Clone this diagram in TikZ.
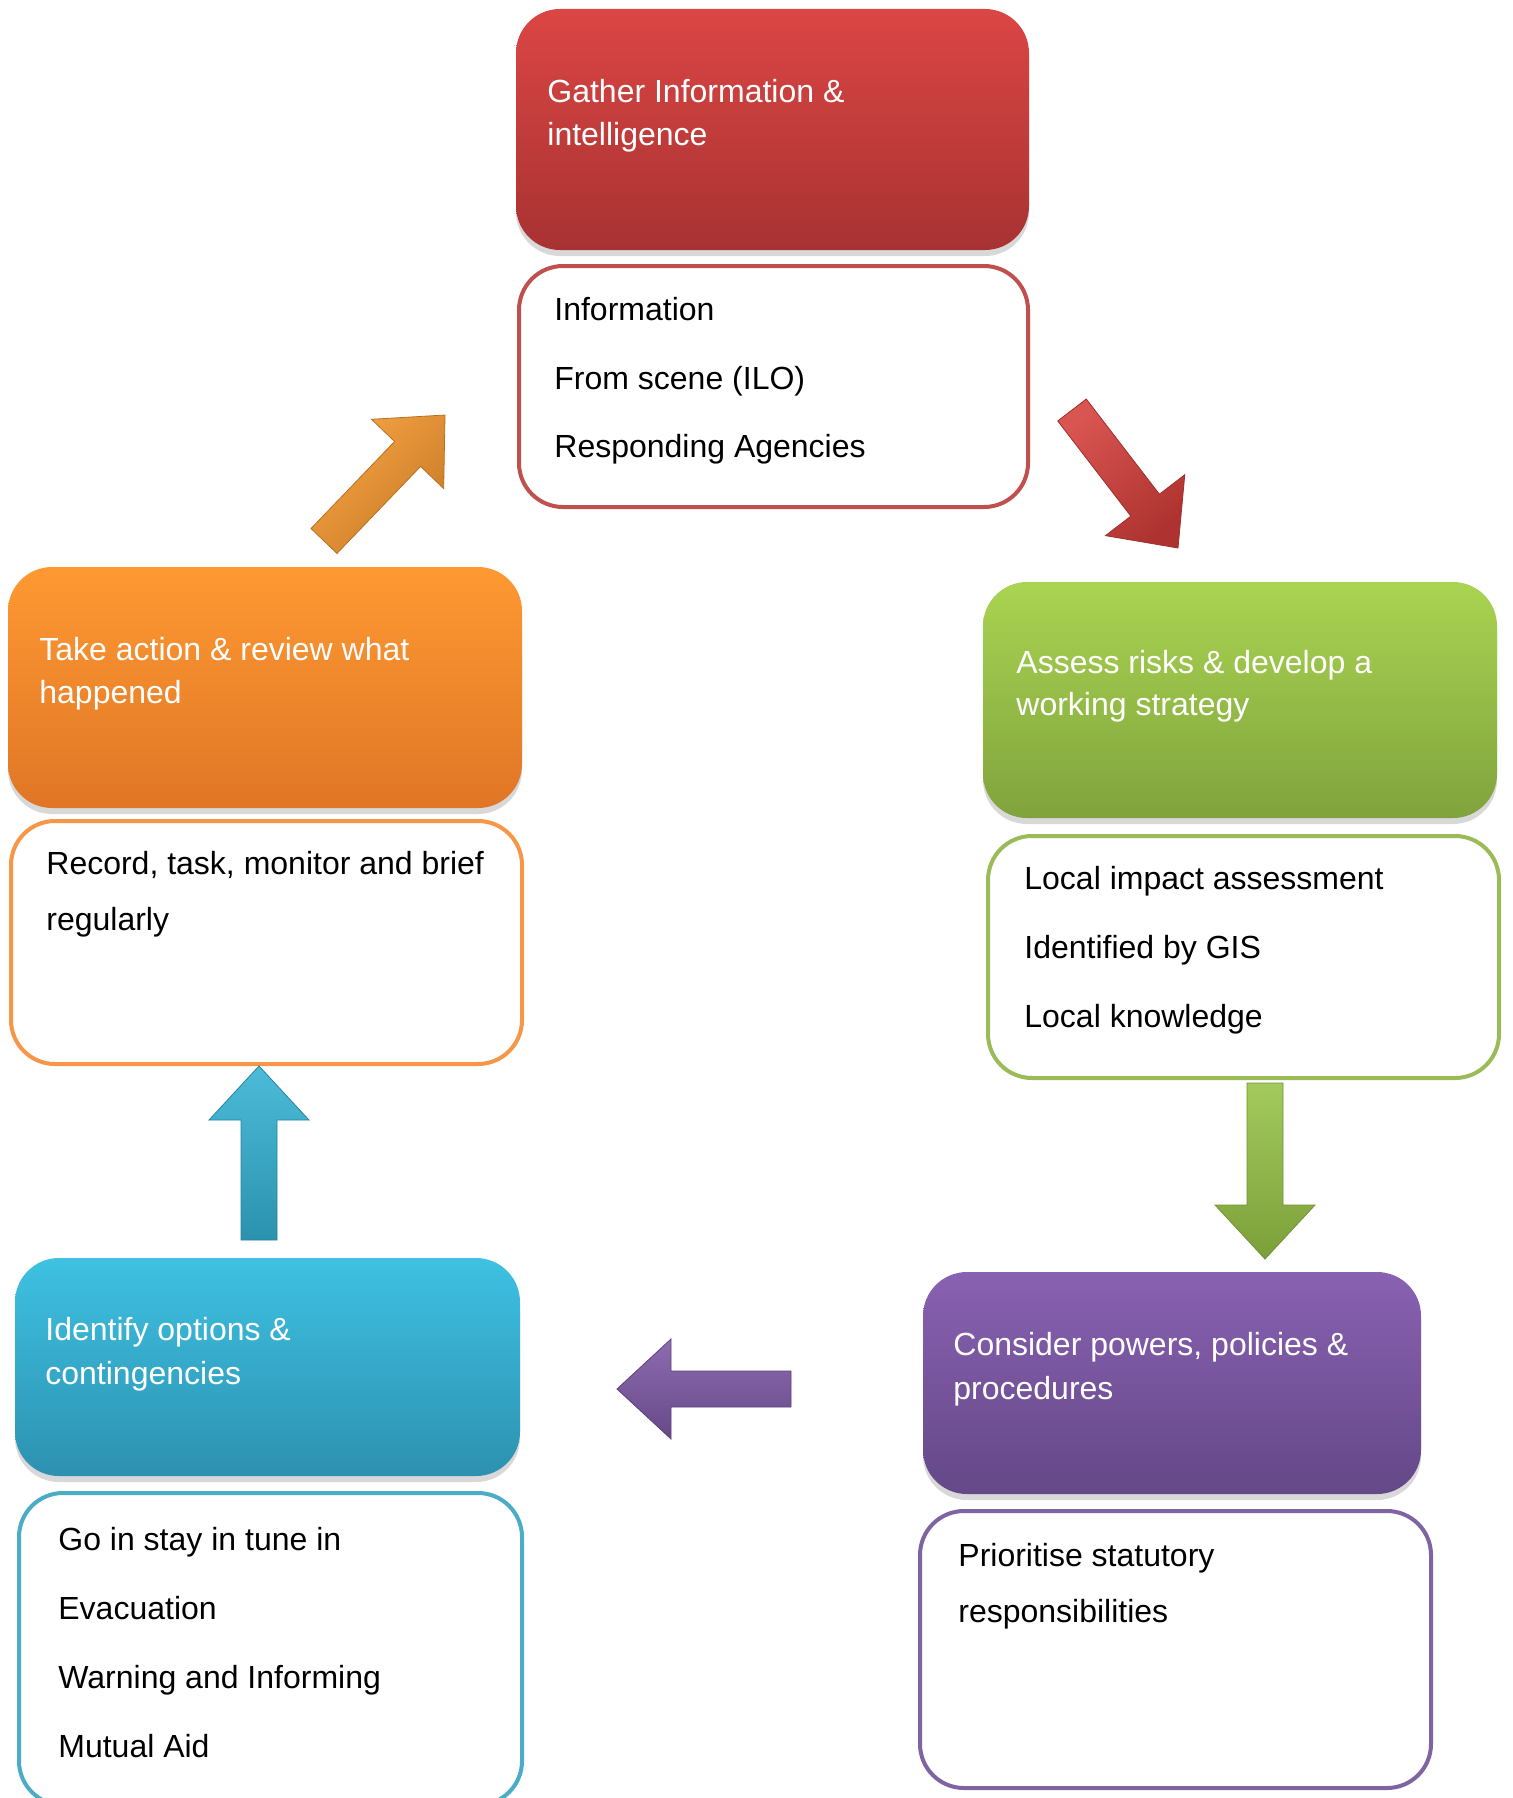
\documentclass[tikz,border=0pt]{standalone}
\usepackage{fontspec}
\setmainfont{Liberation Sans}
\usetikzlibrary{calc,shadows}
\definecolor{redT}{RGB}{219,70,68}
\definecolor{redB}{RGB}{168,50,50}
\definecolor{redL}{RGB}{192,80,77}
\definecolor{grnT}{RGB}{170,212,82}
\definecolor{grnB}{RGB}{128,163,60}
\definecolor{grnL}{RGB}{155,187,89}
\definecolor{purT}{RGB}{137,97,178}
\definecolor{purB}{RGB}{100,72,135}
\definecolor{purL}{RGB}{128,100,162}
\definecolor{bluT}{RGB}{62,193,226}
\definecolor{bluB}{RGB}{45,145,176}
\definecolor{bluL}{RGB}{75,172,198}
\definecolor{orgT}{RGB}{254,153,50}
\definecolor{orgB}{RGB}{224,118,38}
\definecolor{orgL}{RGB}{247,150,70}
\definecolor{redA}{RGB}{212,62,58}
\definecolor{grnA}{RGB}{150,195,70}
\definecolor{purA}{RGB}{125,88,165}
\definecolor{bluA}{RGB}{52,178,212}
\definecolor{orgA}{RGB}{245,150,45}
\tikzset{
  hdr/.style={rounded corners=22pt, inner sep=0pt,
    drop shadow={opacity=0.3,shadow xshift=0pt,shadow yshift=-3pt}},
  det/.style={rounded corners=22pt, draw=#1, line width=2pt, fill=white, inner sep=0pt},
  htxt/.style={anchor=base west, text=white, font=\fontsize{16}{21}\selectfont, inner sep=0pt},
  dtxt/.style={anchor=base west, text=black, font=\fontsize{16}{21}\selectfont, inner sep=0pt},
  barrow/.style={draw=#1!75!black, line width=0.4pt, line join=miter}
}
\newcommand\blockarr[4]{%
  \coordinate (#2b) at ($(#3)!27pt!(#2)$);
  \shade[barrow=#1, top color=#1!88!white, bottom color=#1!82!black, shading angle=#4]
    ($(#2)!9pt!90:(#3)$) -- ($(#2b)!9pt!90:(#3)$) -- ($(#2b)!25pt!90:(#3)$) -- (#3)
    -- ($(#2b)!25pt!-90:(#3)$) -- ($(#2b)!9pt!-90:(#3)$) -- ($(#2)!9pt!-90:(#3)$) -- cycle;
}
\begin{document}
\begin{tikzpicture}[x=0.5pt,y=-0.5pt]
\clip (0,0) rectangle (1512,1798);
\fill[white] (0,0) rectangle (1512,1798);

% --- Gather (red)
\node[hdr, top color=redT, bottom color=redB, minimum width=256.5pt, minimum height=120.5pt] (gh) at (772.5,129.5) {};
\node[det=redL, minimum width=254.5pt, minimum height=120.5pt] (gd) at (773.5,386.5) {};
\node[htxt] (gt1) at (547,103) {Gather Information \&};
\node[htxt] (gt2) at (547,146) {intelligence};
\node[dtxt] (gd1) at (554,320) {Information};
\node[dtxt] (gd2) at (554,389) {From scene (ILO)};
\node[dtxt] (gd3) at (554,457) {Responding Agencies};

% --- Assess (green)
\node[hdr, top color=grnT, bottom color=grnB, minimum width=257pt, minimum height=118pt] (ah) at (1240,700) {};
\node[det=grnL, minimum width=255.5pt, minimum height=121pt] (ad) at (1243.5,957) {};
\node[htxt] (at1) at (1016,673) {Assess risks \& develop a};
\node[htxt] (at2) at (1016,715) {working strategy};
\node[dtxt] (ad1) at (1024,889) {Local impact assessment};
\node[dtxt] (ad2) at (1024,958) {Identified by GIS};
\node[dtxt] (ad3) at (1024,1027) {Local knowledge};

% --- Consider (purple)
\node[hdr, top color=purT, bottom color=purB, minimum width=249pt, minimum height=111pt] (ch) at (1172,1383) {};
\node[det=purL, minimum width=255.5pt, minimum height=138.5pt] (cd) at (1175.5,1649.5) {};
\node[htxt] (ct1) at (953,1355) {Consider powers, policies \&};
\node[htxt] (ct2) at (953,1399) {procedures};
\node[dtxt] (cd1) at (958,1566) {Prioritise statutory};
\node[dtxt] (cd2) at (958,1622) {responsibilities};

% --- Identify (blue)
\node[hdr, top color=bluT, bottom color=bluB, minimum width=252.5pt, minimum height=109pt] (ih) at (267.5,1367) {};
\node[det=bluL, minimum width=251.5pt, minimum height=156pt] (id) at (270.5,1649) {};
\node[htxt] (it1) at (45,1340) {Identify options \&};
\node[htxt] (it2) at (45,1384) {contingencies};
\node[dtxt] (id1) at (58,1550) {Go in stay in tune in};
\node[dtxt] (id2) at (58,1619) {Evacuation};
\node[dtxt] (id3) at (58,1688) {Warning and Informing};
\node[dtxt] (id4) at (58,1757) {Mutual Aid};

% --- Take action (orange)
\node[hdr, top color=orgT, bottom color=orgB, minimum width=257pt, minimum height=120.5pt] (th) at (265,687.5) {};
\node[det=orgL, minimum width=255.5pt, minimum height=121.5pt] (td) at (266.5,942.5) {};
\node[htxt] (tt1) at (39,660) {Take action \& review what};
\node[htxt] (tt2) at (39,703) {happened};
\node[dtxt] (td1) at (46,874) {Record, task, monitor and brief};
\node[dtxt] (td2) at (46,930) {regularly};

% --- block arrows
\coordinate (ra) at (1072,410); \coordinate (rb) at (1178,548);
\coordinate (ga) at (1265,1083); \coordinate (gb) at (1265,1259);
\coordinate (pa) at (791,1389);  \coordinate (pb) at (617,1389);
\coordinate (ba) at (259,1240);  \coordinate (bb) at (259,1066);
\coordinate (oa) at (324,541);   \coordinate (ob) at (445,415);
\blockarr{redA}{ra}{rb}{40}
\blockarr{grnA}{ga}{gb}{0}
\blockarr{purA}{pa}{pb}{0}
\blockarr{bluA}{ba}{bb}{0}
\blockarr{orgA}{oa}{ob}{45}
\end{tikzpicture}
\end{document}
